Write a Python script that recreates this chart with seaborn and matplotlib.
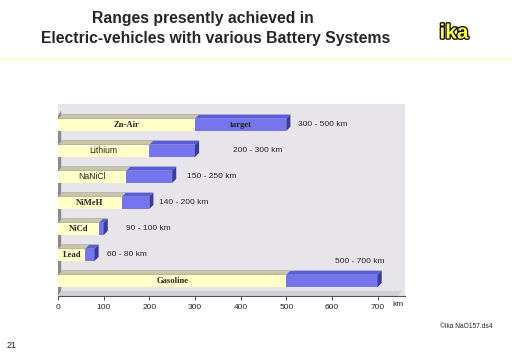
import matplotlib
matplotlib.use("Agg")
import matplotlib.pyplot as plt
import matplotlib.patheffects as pe
from matplotlib.patches import Polygon
import pandas as pd
import seaborn as sns

# -------------------- Data --------------------

systems = ["Zn-Air", "Lithium", "NaNiCl", "NiMeH", "NiCd", "Lead", "Gasoline"]
range_min = [300, 200, 150, 140, 90, 60, 500]
range_max = [500, 300, 250, 200, 100, 80, 700]
range_labels = ["300 - 500 km", "200 - 300 km", "150 - 250 km", "140 - 200 km",
                "90 - 100 km", "60 - 80 km", "500 - 700 km"]
label_x = [525, 383, 282, 221, 149, 107, 606]
serif_labels = ["Zn-Air", "NiMeH", "NiCd", "Lead", "Gasoline"]

df = pd.DataFrame({"system": systems, "low": range_min, "high": range_max})

yellow = "#ffffc8"
yellow_top = "#c9c6a0"
blue = "#7575ee"
blue_top = "#5c5cd4"
blue_side = "#3a3aa0"

# -------------------- Figure --------------------

sns.set_style("white")
plt.rcParams["font.family"] = ["Liberation Sans", "DejaVu Sans"]

fig = plt.figure(figsize=(5.12, 3.54), dpi=100)
ax = fig.add_axes([58 / 512, 1 - 296 / 354, (405 - 58) / 512, (296 - 104) / 354])
ax.set_facecolor("#e7e5e9")

sns.barplot(data=df, x="high", y="system", orient="h", color=blue, saturation=1,
            width=0.47, linewidth=0, ax=ax, zorder=3)
n_blue = len(ax.patches)
sns.barplot(data=df, x="low", y="system", orient="h", color=yellow, saturation=1,
            width=0.47, linewidth=0, ax=ax, zorder=4)

ax.set_xlim(0, 760)
ax.set_ylim(6.58, -0.8)

# fake 3D faces from the drawn bars
dx, dy = 9, 0.16
for i, p in enumerate(list(ax.patches)):
    x0, x1 = p.get_x(), p.get_x() + p.get_width()
    ytop, ybot = p.get_y(), p.get_y() + p.get_height()
    is_blue = i < n_blue
    top = Polygon([(x0, ytop), (x1, ytop), (x1 + dx, ytop - dy), (x0 + dx, ytop - dy)],
                  closed=True, color=blue_top if is_blue else yellow_top,
                  lw=0, zorder=4 if is_blue else 5)
    ax.add_patch(top)
    if is_blue:
        side = Polygon([(x1, ytop), (x1 + dx, ytop - dy), (x1 + dx, ybot - dy), (x1, ybot)],
                       closed=True, color=blue_side, lw=0, zorder=4)
        ax.add_patch(side)

# left wall and floor
ax.add_patch(Polygon([(0, -0.35), (7, -0.55), (7, 6.38), (0, 6.58)], closed=True,
                     color="#8a8a8a", lw=0, zorder=2))
ax.add_patch(Polygon([(0, 6.58), (745, 6.58), (754, 6.38), (9, 6.38)], closed=True,
                     color="#d2d0d4", lw=0, zorder=2))

# labels in and beside the bars
for i, name in enumerate(systems):
    serif = name in serif_labels
    fam = ["Liberation Serif", "DejaVu Serif"] if serif else ["Liberation Sans", "DejaVu Sans"]
    ax.text(range_min[i] / 2, i, name, ha="center", va="center", fontsize=6.2,
            fontweight="bold" if serif else "normal", family=fam, zorder=6)
    ty = i if i < 6 else 5.27
    ax.text(label_x[i], ty, range_labels[i], ha="left", va="center", fontsize=6, zorder=6)
ax.text((range_min[0] + range_max[0]) / 2, 0, "target", ha="center", va="center",
        fontsize=6.2, fontweight="bold", family=["Liberation Serif", "DejaVu Serif"], zorder=6)

for s in ["left", "right", "top"]:
    ax.spines[s].set_visible(False)
ax.spines["bottom"].set_color("#555555")
ax.spines["bottom"].set_linewidth(0.8)
ax.set_xticks(range(0, 800, 100))
ax.tick_params(axis="x", bottom=True, length=3, width=0.6, color="#333333",
               labelsize=6, pad=3)
ax.set_yticks([])
ax.set_xlabel("")
ax.set_ylabel("")
fig.text(398 / 512, 1 - 305 / 354, "km", fontsize=6, ha="center", va="center")

# title, logo and page furniture
fig.text(203 / 512, 1 - 18 / 354, "Ranges presently achieved in", ha="center", va="center",
         fontsize=11.3, fontweight="bold")
fig.text(216 / 512, 1 - 38 / 354, "Electric-vehicles with various Battery Systems",
         ha="center", va="center", fontsize=11.3, fontweight="bold")
fig.text(454 / 512, 1 - 33 / 354, "ika", ha="center", va="center", fontsize=15,
         fontweight="bold", color="#ffff33",
         path_effects=[pe.withStroke(linewidth=1.8, foreground="black")])
fig.add_artist(plt.Line2D([0, 1], [1 - 59 / 354] * 2, color="#ffffd0", lw=2))
fig.text(466 / 512, 1 - 326 / 354, "\u00a9ika NaO157.ds4", ha="center", va="center",
         fontsize=4.8)
fig.text(12 / 512, 1 - 345 / 354, "21", ha="center", va="center", fontsize=6.5)

fig.savefig("out.png", dpi=100)
